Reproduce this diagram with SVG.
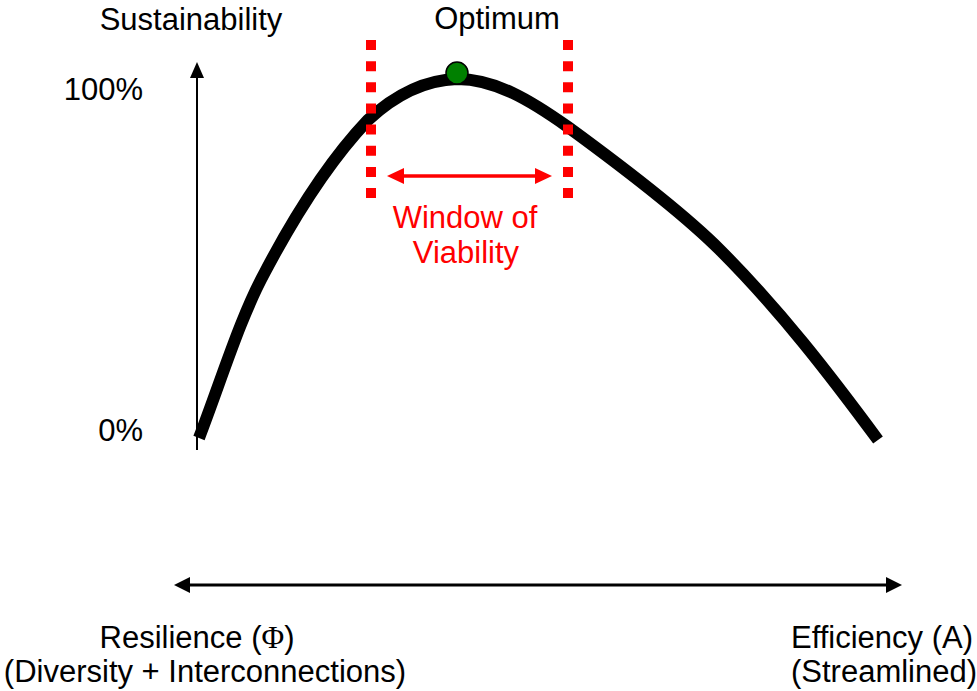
<svg xmlns="http://www.w3.org/2000/svg" width="977" height="691" viewBox="0 0 977 691">
<style>
text{font-family:"Liberation Sans",Arial,sans-serif;font-size:31px;fill:#000}
.red{fill:#ff0000}
.dash{stroke:#ff0000;stroke-width:10;stroke-dasharray:10 11.15;fill:none}
</style>
<rect width="977" height="691" fill="#fff"/>
<g id="connectors">
<line x1="197" y1="450" x2="197" y2="76" stroke="#000" stroke-width="2"/>
<polygon points="197,62 190,78 204,78" fill="#000"/>
<line x1="188" y1="585" x2="888" y2="585" stroke="#000" stroke-width="3"/>
<polygon points="174,585 190,577 190,593" fill="#000"/>
<polygon points="902,585 886,577 886,593" fill="#000"/>
</g>
<g id="curve">
<path d="M199,438 C222,378 240,318 265,272 C295,215 330,160 368,120 C395,95 425,80 457,79 C495,79 530,100 568,127 C620,165 680,210 720,250 C780,310 830,375 878,440" fill="none" stroke="#000" stroke-width="12"/>
</g>
<g id="window">
<line class="dash" x1="371" y1="40" x2="371" y2="199"/>
<line class="dash" x1="568" y1="40" x2="568" y2="199"/>
<line x1="400" y1="176" x2="540" y2="176" stroke="#ff0000" stroke-width="3.5"/>
<polygon points="387,176 404,168 404,184" fill="#ff0000"/>
<polygon points="552,176 535,168 535,184" fill="#ff0000"/>
<text class="red" x="465" y="228" text-anchor="middle">Window of</text>
<text class="red" x="466" y="263" text-anchor="middle">Viability</text>
</g>
<g id="optimum">
<circle cx="457" cy="73" r="11" fill="#008000" stroke="#000" stroke-width="1.5"/>
<text x="497" y="29" text-anchor="middle">Optimum</text>
</g>
<g id="labels">
<text x="191" y="30" text-anchor="middle">Sustainability</text>
<text x="143" y="100" text-anchor="end">100%</text>
<text x="143" y="441" text-anchor="end">0%</text>
<text x="197" y="648" text-anchor="middle">Resilience (<tspan font-family="'Liberation Serif',serif">Φ</tspan>)</text>
<text x="205" y="682" text-anchor="middle">(Diversity + Interconnections)</text>
<text x="882" y="648" text-anchor="middle">Efficiency (A)</text>
<text x="884" y="682" text-anchor="middle">(Streamlined)</text>
</g>
</svg>
